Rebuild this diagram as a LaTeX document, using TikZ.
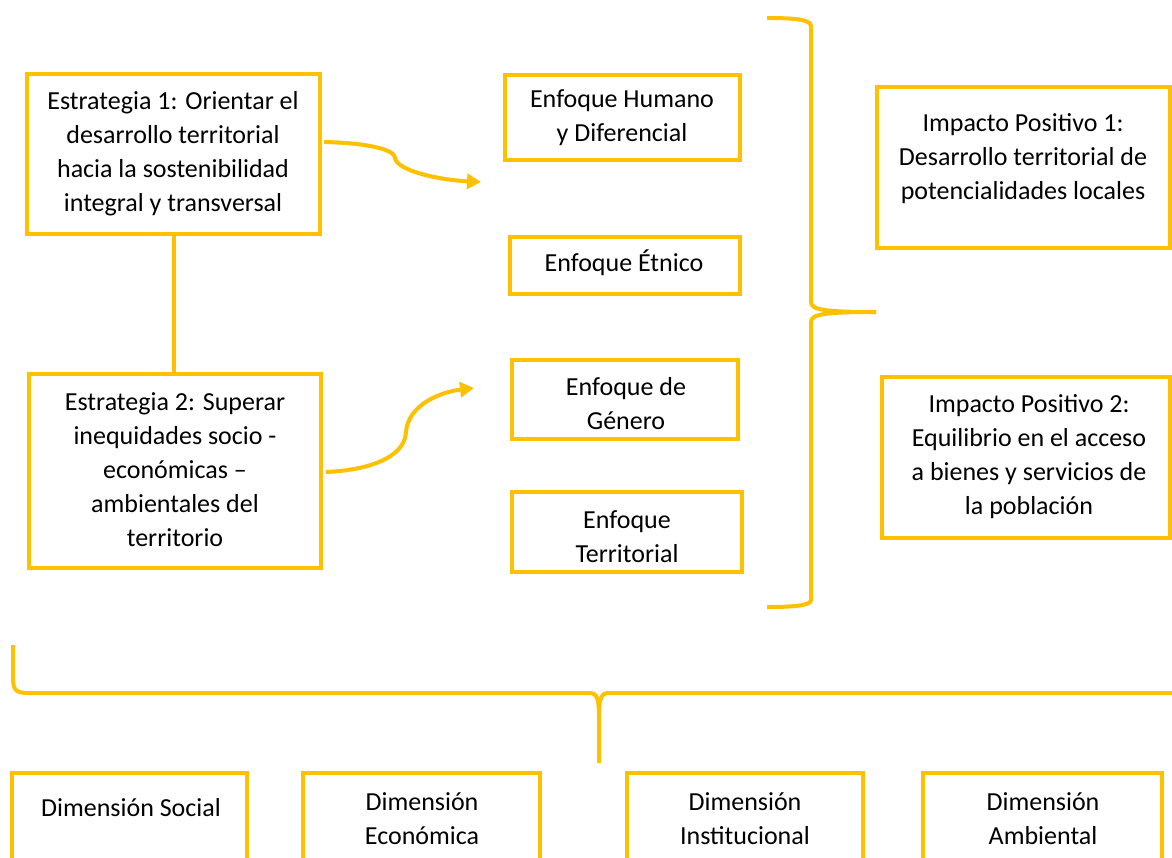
\documentclass[tikz,border=0pt]{standalone}
\usepackage{fontspec}
\setmainfont{Carlito}
\usetikzlibrary{arrows.meta,calc}
\definecolor{gold}{HTML}{FFC000}
\begin{document}
\begin{tikzpicture}[x=1pt,y=-1pt,
  box/.style={draw=gold,line width=4pt,rectangle,inner sep=0pt},
  txt/.style={align=center,inner sep=0pt,font=\fontsize{26}{34}\selectfont},
  con/.style={draw=gold,line width=4pt},
  arr/.style={draw=gold,line width=4pt,-{Triangle[length=14pt,width=15pt]}}]
\clip (0,0) rectangle (1172,857);
\fill[white] (0,0) rectangle (1172,857);
% strategies
\node[box,minimum width=293pt,minimum height=160pt] (s1) at (173.5,154) {};
\node[txt] (s1t) at (173,153.5) {Estrategia 1: Orientar el\\desarrollo territorial\\hacia la sostenibilidad\\integral y transversal};
\node[box,minimum width=292pt,minimum height=194pt] (s2) at (175,471) {};
\node[txt] (s2t) at (175,470) {Estrategia 2: Superar\\inequidades socio -\\económicas –\\ambientales del\\territorio};
% enfoques
\node[box,minimum width=235pt,minimum height=85pt] (h) at (622.5,117.5) {};
\node[txt] (ht) at (622,118) {Enfoque Humano\\y Diferencial};
\node[box,minimum width=230pt,minimum height=57pt] (e) at (625,265.5) {};
\node[txt] (et) at (624,263) {Enfoque Étnico};
\node[box,minimum width=226pt,minimum height=79pt] (g) at (625,399.5) {};
\node[txt] (gt) at (626,404) {Enfoque de\\Género};
\node[box,minimum width=230pt,minimum height=80pt] (t) at (627,532) {};
\node[txt] (tt) at (627,537) {Enfoque\\Territorial};
% impacts
\node[box,minimum width=293pt,minimum height=161pt] (i1) at (1023.5,167.5) {};
\node[txt] (i1t) at (1023,159) {Impacto Positivo 1:\\Desarrollo territorial de\\potencialidades locales};
\node[box,minimum width=288pt,minimum height=161pt] (i2) at (1026,457.5) {};
\node[txt] (i2t) at (1029,457) {Impacto Positivo 2:\\Equilibrio en el acceso\\a bienes y servicios de\\la población};
% dimensions
\node[box,minimum width=235pt,minimum height=127pt] (d1) at (129.5,836.5) {};
\node[txt] (d1t) at (131,808) {Dimensión Social};
\node[box,minimum width=237pt,minimum height=127pt] (d2) at (421.5,836.5) {};
\node[txt] (d2t) at (422,818.5) {Dimensión\\Económica};
\node[box,minimum width=236pt,minimum height=127pt] (d3) at (745,836.5) {};
\node[txt] (d3t) at (745,818.5) {Dimensión\\Institucional};
\node[box,minimum width=239pt,minimum height=127pt] (d4) at (1042.5,836.5) {};
\node[txt] (d4t) at (1043,818.5) {Dimensión\\Ambiental};
% connectors
\draw[con] (s1.south) -- (s1.south |- s2.north);
\coordinate (a1) at (481,182);
\coordinate (a2) at (474,388);
\draw[arr] ([xshift=2pt,yshift=12pt]s1.east) .. controls (370,143) and (395,150) .. (395,158)
  .. controls (397,171) and (440,180) .. (a1);
\draw[arr] ([xshift=3pt,yshift=-1pt]s2.east) .. controls (372,470) and (405,456) .. (406,432)
  .. controls (408,405) and (440,392) .. (a2);
% right brace
\draw[con,line cap=butt] (767,18) .. controls (790,18) and (811,19) .. (811,26) -- (811,302)
  .. controls (811,310) and (825,312) .. (876,312);
\draw[con,line cap=butt] (876,312) .. controls (825,312) and (811,314) .. (811,322) -- (811,600)
  .. controls (811,606) and (790,607) .. (767,607);
% bottom brace
\draw[con,line cap=butt] (13,645) -- (13,678) .. controls (13,690) and (16,693) .. (28,693) -- (590,693)
  .. controls (597,693) and (599,700) .. (599,715) -- (599,763);
\draw[con,line cap=butt] (599,715) .. controls (599,700) and (601,693) .. (608,693) -- (1180,693);
\end{tikzpicture}
\end{document}
